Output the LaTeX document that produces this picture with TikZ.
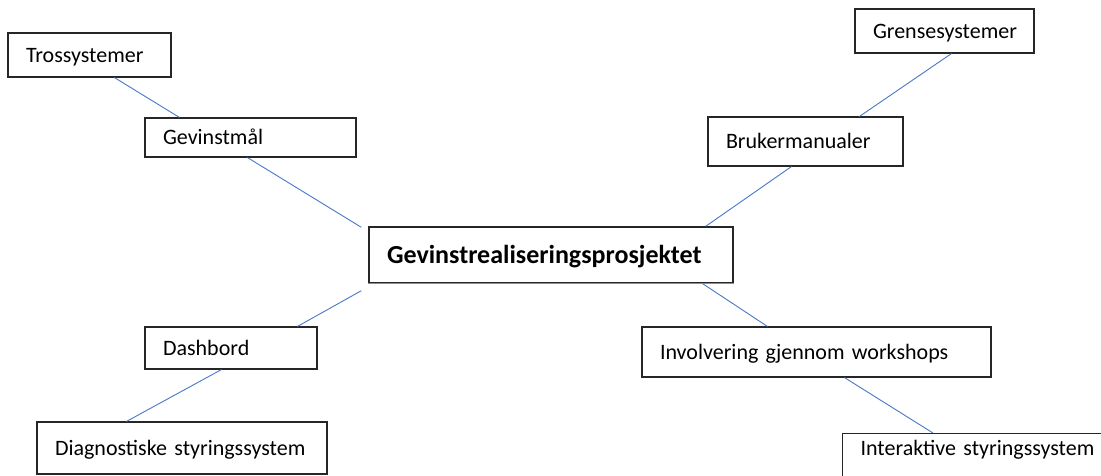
\documentclass[tikz,border=0pt]{standalone}
\usepackage{fontspec}
\setmainfont{Carlito}
\usetikzlibrary{calc}
\definecolor{linkblue}{HTML}{4A78C8}
\definecolor{officegreen}{HTML}{70AD47}
\tikzset{
  mapbox/.style={draw=black!85, line width=1.1pt, fill=white, align=left, inner xsep=18pt,
    text height=14pt, text depth=0pt, font=\fontsize{22}{26}\selectfont},
  centerbox/.style={mapbox, line width=1.4pt, font=\fontsize{26}{30}\selectfont\bfseries, text height=16.5pt},
  link/.style={draw=linkblue, line width=0.9pt}
}
\begin{document}
\begin{tikzpicture}[x=1pt,y=-1pt]
\useasboundingbox (0,0) rectangle (1101,475);
\clip (0,0) rectangle (1101,475);
\fill[white] (0,0) rectangle (1101,475);

\node[mapbox, text width=127pt, minimum height=44pt] (tross) at (89.5,55) {Trossystemer};
\node[mapbox, text width=175pt, minimum height=39pt] (gev) at (250.5,137.5) {Gevinstmål};
\node[centerbox, text width=328pt, minimum height=56pt] (c) at (551,255) {Gevinstrealiseringsprosjektet};
\draw[officegreen, line width=1.4pt] (c.south west) -- (c.south east);
\node[mapbox, text width=143pt, minimum height=44pt] (grense) at (944.5,31) {Grensesystemer};
\node[mapbox, text width=159pt, minimum height=49pt] (bruker) at (805.5,141.5) {Brukermanualer};
\node[mapbox, text width=136pt, minimum height=42pt] (dash) at (231,348) {Dashbord};
\node[mapbox, text width=254pt, minimum height=52pt] (diag) at (182,448) {Diagnostiske styringssystem};
\node[mapbox, text width=313pt, minimum height=50pt] (inv) at (816.5,352) {Involvering gjennom workshops};
\node[mapbox, anchor=north west, text width=244pt, minimum height=0pt, inner ysep=8pt,
      text height=14pt, text depth=30pt] (inter) at (842,433) {Interaktive styringssystem};

\draw[link] ([shift={(107,0)}]tross.south west) -- ([shift={(35,0)}]gev.north west);
\draw[link] ([shift={(103,0)}]gev.south west) -- ([shift={(-7,1)}]c.north west);
\draw[link] ([shift={(97,0)}]grense.south west) -- ([shift={(152,0)}]bruker.north west);
\draw[link] ([shift={(84,0)}]bruker.south west) -- ([shift={(-28,0)}]c.north east);
\draw[link] ([shift={(-7,7)}]c.south west) -- ([shift={(153,0)}]dash.north west);
\draw[link] ([shift={(77,0)}]dash.south west) -- ([shift={(90,0)}]diag.north west);
\draw[link] ([shift={(-31,0)}]c.south east) -- ([shift={(126,0)}]inv.north west);
\draw[link] ([shift={(203,0)}]inv.south west) -- ([shift={(91,0)}]inter.north west);
\end{tikzpicture}
\end{document}
